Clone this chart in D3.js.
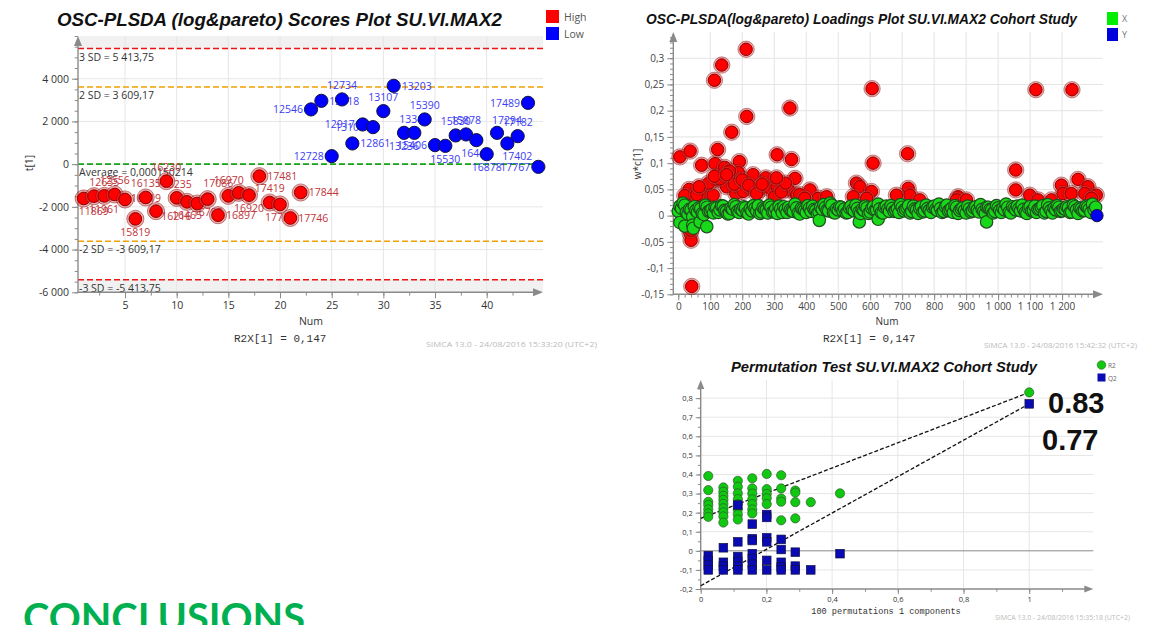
<!DOCTYPE html>
<html>
<head>
<meta charset="utf-8">
<script src="https://cdn.jsdelivr.net/npm/d3@7"></script>
<style>
  body { margin: 0; background: #fff; }
  svg { display: block; }
</style>
</head>
<body>
<svg id="c" width="1173" height="625"></svg>
<script>
// ===================== Scores plot data =====================
const scoreNum = d3.range(1, 46);
const scoreT = [-1607, -1499, -1485, -1420, -1654, -2562, -1560, -2201, -796, -1578, -1765,
  -1842, -1639, -2389, -1485, -1343, -1452, -562, -1795, -1888, -2520, -1327,
  2562, 2965, 375, 3030, 969, 1859, 1733, 2482, 3667, 1466, 1466, 2093, 890, 857,
  1344, 1391, 1124, 468, 1466, 969, 1311, 2871, -126];
const scoreClass = ["High","High","High","High","High","High","High","High","High","High","High",
  "High","High","High","High","High","High","High","High","High","High","High",
  "Low","Low","Low","Low","Low","Low","Low","Low","Low","Low","Low","Low","Low","Low",
  "Low","Low","Low","Low","Low","Low","Low","Low","Low"];
const scoreIds = ["11869","11961","12635","12556","","15819","16135","16319","16230","16235","16465",
  "16216","16792","16897","17086","16970","16920","17481","17419","17728","17746","17844",
  "12546","13018","12728","12734","12861","12917","13101","13107","13203","13236","13340","15390","15406","15530",
  "15830","15878","16440","16878","17294","17402","17182","17489","17767"];
const scoreLabelSide = ["br","br","t","t","r","b","t","tl","t","t","b",
  "bl","b","r","tl","tl","b","r","t","b","r","r",
  "l","r","l","t","r","l","l","t","r","b","t","t","l","b",
  "t","t","b","b","tr","br","t","l","l"];
const sdValues = [5413.75, 3609.17, 0.000150214, -3609.17, -5413.75];
const sdLabels = ["3 SD = 5 413,75", "2 SD = 3 609,17", "Average = 0,000150214", "-2 SD = -3 609,17", "-3 SD = -5 413,75"];
const scoreXTicks = [5, 10, 15, 20, 25, 30, 35, 40];
const scoreYTicks = [-6000, -4000, -2000, 0, 2000, 4000];

// ===================== Loadings plot data =====================
const loadNumXa = d3.range(5, 1310, 10);
const loadWXa = [
  0.018, 0.024, 0.006, 0.012, -0.002, 0.010, 0.015, 0.004, 0.020, 0.008,
  0.012, 0.016, 0.006, 0.019, 0.010, 0.003, 0.014, 0.021, 0.008, 0.012,
  0.017, 0.005, 0.013, 0.019, 0.009, 0.004, 0.015, 0.011, 0.020, 0.007,
  0.013, 0.018, 0.006, 0.012, 0.016, 0.009, 0.022, 0.005, 0.014, 0.010,
  0.019, 0.008, 0.012, 0.004, 0.016, 0.021, 0.010, 0.024, 0.006, 0.013,
  0.017, 0.009, 0.005, 0.015, 0.011, 0.020, 0.007, 0.012, 0.018, 0.004,
  0.014, 0.010, 0.022, 0.006, 0.016, 0.012, 0.019, 0.008, 0.013, 0.021,
  0.009, 0.015, 0.005, 0.018, 0.011, 0.014, 0.007, 0.020, 0.010, 0.016,
  0.012, 0.022, 0.006, 0.017, 0.009, 0.014, 0.019, 0.004, 0.013, 0.010,
  0.018, 0.007, 0.015, 0.011, 0.021, 0.008, 0.016, 0.012, 0.005, 0.019,
  0.010, 0.014, 0.022, 0.007, 0.017, 0.011, 0.013, 0.020, 0.006, 0.015,
  0.009, 0.018, 0.012, 0.016, 0.005, 0.021, 0.010, 0.014, 0.019, 0.008,
  0.013, 0.017, 0.006, 0.020, 0.011, 0.015, 0.009, 0.018, 0.012, 0.022,
  0.016];
const loadNumXb = d3.range(0, 1301, 10);
const loadWXb = [
  0.008, 0.014, 0.020, 0.003, 0.011, 0.017, 0.007, 0.013, 0.002, 0.016,
  0.009, 0.005, 0.015, 0.011, 0.018, 0.008, 0.004, 0.012, 0.017, 0.006,
  0.010, 0.015, 0.003, 0.009, 0.014, 0.019, 0.007, 0.012, 0.005, 0.016,
  0.008, 0.004, 0.013, 0.017, 0.006, 0.011, 0.008, 0.015, 0.003, 0.012,
  0.006, 0.014, 0.018, 0.010, 0.007, 0.012, 0.016, 0.009, 0.020, 0.005,
  0.011, 0.016, 0.013, 0.006, 0.018, 0.009, 0.014, 0.004, 0.010, 0.015,
  0.007, 0.017, 0.011, 0.013, 0.005, 0.018, 0.008, 0.014, 0.010, 0.006,
  0.016, 0.012, 0.019, 0.008, 0.013, 0.004, 0.017, 0.009, 0.014, 0.006,
  0.018, 0.010, 0.014, 0.008, 0.020, 0.011, 0.006, 0.016, 0.010, 0.015,
  0.005, 0.013, 0.009, 0.017, 0.007, 0.012, 0.004, 0.016, 0.011, 0.008,
  0.015, 0.006, 0.011, 0.016, 0.005, 0.014, 0.018, 0.009, 0.012, 0.004,
  0.017, 0.010, 0.006, 0.013, 0.019, 0.008, 0.015, 0.005, 0.011, 0.016,
  0.009, 0.012, 0.015, 0.007, 0.017, 0.004, 0.013, 0.010, 0.016, 0.006,
  0.011];
const loadNumXLow = [5, 20, 45, 47, 68, 89, 441, 566, 625, 964];
const loadWXLow = [-0.013, -0.020, -0.018, -0.024, -0.012, -0.021, -0.009, -0.012, -0.007, -0.012];
const loadNumSel = [5, 37, 73, 113, 136, 115, 123, 167, 212, 214, 191, 188, 139, 156, 120, 151,
  234, 274, 309, 349, 354, 365, 606, 609, 557, 568, 547, 604, 589, 1118, 1231, 717, 719, 724,
  682, 755, 1055, 1055, 1099, 1125, 1167, 1198, 1203, 1229, 1250, 1281, 1271, 1307, 1292,
  34, 76, 42, 78, 109, 180, 203, 232, 255, 287, 309, 344, 370, 412, 438, 464, 875, 870, 901,
  37, 40, 42, 40, 95, 130, 145, 160, 175, 200, 220, 245, 262, 300, 322, 335, 380, 395, 20, 58,
  65, 113, 151, 307];
const loadWSel = [0.112, 0.123, 0.096, 0.258, 0.287, 0.099, 0.126, 0.159, 0.317, 0.189, 0.103,
  0.082, 0.081, 0.076, 0.068, 0.055, 0.078, 0.072, 0.116, 0.205, 0.107, 0.071, 0.242, 0.100,
  0.062, 0.055, 0.036, 0.046, 0.033, 0.240, 0.240, 0.118, 0.052, 0.039, 0.039, 0.030, 0.087,
  0.049, 0.039, 0.030, 0.030, 0.058, 0.042, 0.042, 0.069, 0.055, 0.042, 0.039, 0.033,
  0.050, 0.049, 0.030, 0.036, 0.039, 0.042, 0.046, 0.052, 0.049, 0.052, 0.055, 0.049, 0.039,
  0.049, 0.033, 0.036, 0.036, 0.030, 0.030,
  -0.034, -0.047, -0.135, -0.028, 0.062, 0.070, 0.092, 0.085, 0.060, 0.068, 0.058, 0.042, 0.060,
  0.035, 0.045, 0.062, 0.040, 0.033, 0.038, 0.040, 0.055, 0.075, 0.078, 0.072];
const loadNumY = [1309];
const loadWY = [0.0];
const loadXTicks = [0, 100, 200, 300, 400, 500, 600, 700, 800, 900, 1000, 1100, 1200];
const loadYTicks = [-0.15, -0.1, -0.05, 0, 0.05, 0.1, 0.15, 0.2, 0.25, 0.3];

// ===================== Permutation test data =====================
const permCorr = [
  0.023, 0.023, 0.023, 0.023, 0.023, 0.023, 0.023,
  0.069, 0.069, 0.069, 0.069, 0.069, 0.069, 0.069, 0.069, 0.069,
  0.113, 0.113, 0.113, 0.113, 0.113, 0.113, 0.113, 0.113,
  0.157, 0.157, 0.157, 0.157, 0.157, 0.157, 0.157,
  0.201, 0.201, 0.201, 0.201, 0.201,
  0.245, 0.245, 0.245, 0.245, 0.245,
  0.288, 0.288, 0.288, 0.288,
  0.335, 0.424];
const permR2 = [
  0.392, 0.318, 0.257, 0.240, 0.217, 0.196, 0.178,
  0.332, 0.310, 0.288, 0.267, 0.246, 0.223, 0.202, 0.180, 0.148,
  0.367, 0.336, 0.301, 0.271, 0.245, 0.217, 0.190, 0.164,
  0.380, 0.327, 0.300, 0.270, 0.245, 0.217, 0.196,
  0.403, 0.323, 0.298, 0.276, 0.245,
  0.396, 0.327, 0.274, 0.257, 0.160,
  0.316, 0.305, 0.255, 0.170,
  0.255, 0.301];
const permCorrQ = [
  0.023, 0.023, 0.023, 0.023,
  0.069, 0.069, 0.069, 0.069,
  0.113, 0.113, 0.113, 0.113, 0.113, 0.113,
  0.157, 0.157, 0.157, 0.157, 0.157, 0.157, 0.157,
  0.201, 0.201, 0.201, 0.201, 0.201, 0.201,
  0.245, 0.245, 0.245, 0.245, 0.245,
  0.288, 0.288, 0.288,
  0.335, 0.424];
const permQ2 = [
  -0.025, -0.050, -0.075, -0.100,
  0.016, -0.060, -0.080, -0.100,
  0.240, 0.047, -0.030, -0.055, -0.080, -0.100,
  0.140, 0.063, 0.054, -0.015, -0.040, -0.070, -0.100,
  0.190, 0.175, 0.068, 0.047, -0.050, -0.100,
  0.060, 0.007, -0.060, -0.085, -0.100,
  -0.007, -0.080, -0.100,
  -0.100, -0.015];
const origR2 = 0.83, origQ2 = 0.77;
const interceptR2 = 0.17, interceptQ2 = -0.183;
const permXTicks = [0, 0.2, 0.4, 0.6, 0.8, 1];
const permYTicks = [-0.2, -0.1, 0, 0.1, 0.2, 0.3, 0.4, 0.5, 0.6, 0.7, 0.8];

// ===================== drawing =====================
const svg = d3.select("#c");
const loc = d3.formatLocale({decimal: ",", thousands: " ", grouping: [3], currency: ["", ""], minus: "-"});
const fInt = loc.format(",d");
const fDec = loc.format(",~g");
const UI = "'Open Sans', 'Noto Sans', sans-serif";
const TITLE = "'Liberation Sans', Arial, sans-serif";
const MONO = "'Liberation Mono', 'DejaVu Sans Mono', monospace";

function grid(g, x, y, xs, ys, col) {
  const [x0, x1] = x.range(), [y0, y1] = y.range();
  g.append("g").selectAll("line").data(xs).join("line")
    .attr("x1", d => x(d)).attr("x2", d => x(d)).attr("y1", y0).attr("y2", y1)
    .attr("stroke", col).attr("stroke-width", 1);
  g.append("g").selectAll("line").data(ys).join("line")
    .attr("y1", d => y(d)).attr("y2", d => y(d)).attr("x1", x0).attr("x2", x1)
    .attr("stroke", col).attr("stroke-width", 1);
}

function axes(g, x, y, o) {
  const [x0, x1] = x.range(), [y0, y1] = y.range();
  const ax = g.append("g");
  const yA = ax.append("g").attr("transform", `translate(${x0},0)`)
    .call(d3.axisLeft(y).tickValues(o.yTicks).tickFormat(o.yFmt).tickSize(o.tk).tickSizeOuter(0).tickPadding(o.pad));
  const yM = ax.append("g").attr("transform", `translate(${x0},0)`)
    .call(d3.axisLeft(y).tickValues(o.yMinor).tickFormat("").tickSize(o.tk * 0.55).tickSizeOuter(0));
  const xA = ax.append("g").attr("transform", `translate(0,${y0})`)
    .call(d3.axisBottom(x).tickValues(o.xTicks).tickFormat(o.xFmt).tickSize(o.tk).tickSizeOuter(0).tickPadding(o.pad));
  const xM = ax.append("g").attr("transform", `translate(0,${y0})`)
    .call(d3.axisBottom(x).tickValues(o.xMinor).tickFormat("").tickSize(o.tk * 0.55).tickSizeOuter(0));
  [yA, yM, xA, xM].forEach(a => {
    a.select(".domain").remove();
    a.attr("font-family", UI).attr("font-size", o.fs);
    a.selectAll(".tick line").attr("stroke", "#8a8a8a");
    a.selectAll(".tick text").attr("fill", o.tc);
  });
  // axis lines with arrow heads
  ax.append("line").attr("x1", x0).attr("x2", x0).attr("y1", y0).attr("y2", y1 + 4).attr("stroke", "#8a8a8a").attr("stroke-width", 1.4);
  ax.append("line").attr("x1", x0).attr("x2", x1 - 4).attr("y1", y0).attr("y2", y0).attr("stroke", "#8a8a8a").attr("stroke-width", 1.4);
  const a = o.arrow;
  ax.append("path").attr("d", `M${x0},${y1} L${x0 - a * 0.4},${y1 + a} L${x0 + a * 0.4},${y1 + a} Z`).attr("fill", "#8a8a8a");
  ax.append("path").attr("d", `M${x1},${y0} L${x1 - a},${y0 - a * 0.4} L${x1 - a},${y0 + a * 0.4} Z`).attr("fill", "#8a8a8a");
}

// ---------------- Scores plot ----------------
{
  const g = svg.append("g");
  const x = d3.scaleLinear([0.45, 45.45], [78, 543]);
  const y = d3.scaleLinear([-6000, 6000], [292.3, 36]);
  const sdColor = ["#ee1111", "#f2a000", "#16a316", "#f2a000", "#ee1111"];

  g.append("rect").attr("x", 78).attr("width", 465).attr("y", y(6000)).attr("height", y(sdValues[0]) - y(6000)).attr("fill", "#f1f1f1");
  g.append("rect").attr("x", 78).attr("width", 465).attr("y", y(sdValues[4])).attr("height", y(-6000) - y(sdValues[4])).attr("fill", "#f1f1f1");
  grid(g, x, y, scoreXTicks, scoreYTicks.filter(d => d > -6000), "#e6e6e6");

  g.append("g").selectAll("line").data(sdValues).join("line")
    .attr("x1", 78).attr("x2", 543).attr("y1", d => y(d)).attr("y2", d => y(d))
    .attr("stroke", (d, i) => sdColor[i]).attr("stroke-width", 1.6).attr("stroke-dasharray", "6,3");
  g.append("g").selectAll("text").data(sdLabels).join("text")
    .attr("x", 79).attr("y", (d, i) => y(sdValues[i]) + 12)
    .attr("font-family", UI).attr("font-size", 10.5).attr("fill", "#333").text(d => d);

  axes(g, x, y, {
    yTicks: scoreYTicks, yFmt: fInt, yMinor: d3.range(-6000, 6001, 500),
    xTicks: scoreXTicks, xFmt: fInt, xMinor: d3.range(2.5, 45, 2.5),
    tk: 6, pad: 3, fs: 10.5, tc: "#333", arrow: 10
  });

  // point labels (under the markers)
  const off = {r: [8, 4, "start"], l: [-8, 4, "end"], t: [0, -10, "middle"], b: [0, 17, "middle"],
    tl: [5, -9, "end"], tr: [-5, -9, "start"], bl: [-6, 17, "end"], br: [-5, 17, "start"]};
  g.append("g").selectAll("text").data(scoreNum).join("text")
    .attr("x", (d, i) => x(d) + off[scoreLabelSide[i]][0])
    .attr("y", (d, i) => y(scoreT[i]) + off[scoreLabelSide[i]][1])
    .attr("text-anchor", (d, i) => off[scoreLabelSide[i]][2])
    .attr("font-family", UI).attr("font-size", 10.5)
    .attr("fill", (d, i) => scoreClass[i] === "High" ? "#c0343a" : "#3c3cf5")
    .text((d, i) => scoreIds[i]);

  const pts = g.append("g").selectAll("g").data(scoreNum).join("g")
    .attr("transform", (d, i) => `translate(${x(d)},${y(scoreT[i])})`);
  pts.filter((d, i) => scoreClass[i] === "High").append("circle").attr("r", 8.6)
    .attr("fill", "rgba(205,70,70,0.45)").attr("stroke", "rgba(130,0,0,0.55)").attr("stroke-width", 0.8);
  pts.append("circle").attr("r", (d, i) => scoreClass[i] === "High" ? 6.3 : 6.6)
    .attr("fill", (d, i) => scoreClass[i] === "High" ? "#ff0000" : "#0000ff")
    .attr("stroke", (d, i) => scoreClass[i] === "High" ? "#8c0000" : "#14143c").attr("stroke-width", 1);

  g.append("text").attr("x", 57).attr("y", 26).attr("textLength", 445).attr("lengthAdjust", "spacingAndGlyphs")
    .attr("font-family", TITLE).attr("font-weight", "bold").attr("font-style", "italic").attr("font-size", 17.5)
    .attr("fill", "#111").text("OSC-PLSDA (log&pareto) Scores Plot SU.VI.MAX2");
  const lg = g.append("g");
  [["High", "#ff0000"], ["Low", "#0000ff"]].forEach(([t, c], i) => {
    lg.append("rect").attr("x", 546).attr("y", 10 + i * 17).attr("width", 13).attr("height", 13).attr("fill", c);
    lg.append("text").attr("x", 564).attr("y", 20.5 + i * 17).attr("font-family", UI).attr("font-size", 10.5).attr("fill", "#555").text(t);
  });
  g.append("text").attr("transform", "translate(33,163) rotate(-90)").attr("text-anchor", "middle")
    .attr("font-family", UI).attr("font-size", 10.5).attr("fill", "#333").text("t[1]");
  g.append("text").attr("x", 311).attr("y", 325).attr("text-anchor", "middle")
    .attr("font-family", UI).attr("font-size", 10.5).attr("fill", "#333").text("Num");
  g.append("text").attr("x", 234).attr("y", 342).attr("font-family", MONO).attr("font-size", 11).attr("fill", "#333").text("R2X[1] = 0,147");
  g.append("text").attr("x", 426).attr("y", 347).attr("textLength", 171).attr("lengthAdjust", "spacingAndGlyphs")
    .attr("font-family", UI).attr("font-size", 8).attr("fill", "#bbbbbb").text("SIMCA 13.0 - 24/08/2016 15:33:20 (UTC+2)");
}

// ---------------- Loadings plot ----------------
{
  const g = svg.append("g");
  const x = d3.scaleLinear([-15.6, 1328], [673.3, 1103]);
  const y = d3.scaleLinear([-0.15, 0.35], [294.3, 32]);
  grid(g, x, y, loadXTicks.filter(d => d > 0), loadYTicks.filter(d => d > -0.15), "#e4e4e4");
  axes(g, x, y, {
    yTicks: loadYTicks, yFmt: fDec, yMinor: d3.range(-15, 35, 1).map(d => d / 100),
    xTicks: loadXTicks, xFmt: fInt, xMinor: d3.range(0, 1320, 20),
    tk: 6, pad: 3, fs: 10, tc: "#444", arrow: 10
  });

  // selected variables (red, with highlight ring)
  const sel = g.append("g").selectAll("g").data(loadNumSel).join("g")
    .attr("transform", (d, i) => `translate(${x(d)},${y(loadWSel[i])})`);
  sel.append("circle").attr("r", 8.2).attr("fill", "rgba(205,70,70,0.45)").attr("stroke", "rgba(130,0,0,0.5)").attr("stroke-width", 0.8);
  sel.append("circle").attr("r", 6.2).attr("fill", "#ff0000").attr("stroke", "#8c0000").attr("stroke-width", 1);

  // X loadings (green), drawn in variable order
  const xPts = loadNumXa.map((n, i) => [n, loadWXa[i]])
    .concat(loadNumXb.map((n, i) => [n, loadWXb[i]]))
    .concat(loadNumXLow.map((n, i) => [n, loadWXLow[i]]))
    .sort((p, q) => p[0] - q[0]);
  g.append("g").selectAll("circle").data(xPts).join("circle")
    .attr("cx", d => x(d[0])).attr("cy", d => y(d[1])).attr("r", 6.2)
    .attr("fill", "#19d819").attr("stroke", "#1f4f1f").attr("stroke-width", 1.2);
  // Y loading (blue)
  g.append("g").selectAll("circle").data(loadNumY).join("circle")
    .attr("cx", d => x(d)).attr("cy", (d, i) => y(loadWY[i])).attr("r", 6.2)
    .attr("fill", "#0000ee").attr("stroke", "#14143c").attr("stroke-width", 1);

  g.append("text").attr("x", 646).attr("y", 24).attr("textLength", 431).attr("lengthAdjust", "spacingAndGlyphs")
    .attr("font-family", TITLE).attr("font-weight", "bold").attr("font-style", "italic").attr("font-size", 15)
    .attr("fill", "#111").text("OSC-PLSDA(log&pareto) Loadings Plot SU.VI.MAX2 Cohort Study");
  [["X", "#00ee00"], ["Y", "#0000dd"]].forEach(([t, c], i) => {
    g.append("rect").attr("x", 1107).attr("y", 12 + i * 16).attr("width", 11).attr("height", 13).attr("fill", c);
    g.append("text").attr("x", 1122).attr("y", 22 + i * 16).attr("font-family", UI).attr("font-size", 9).attr("fill", "#777").text(t);
  });
  g.append("text").attr("transform", "translate(641,164) rotate(-90)").attr("text-anchor", "middle")
    .attr("font-family", UI).attr("font-size", 10).attr("fill", "#333").text("w*c[1]");
  g.append("text").attr("x", 887).attr("y", 325).attr("text-anchor", "middle")
    .attr("font-family", UI).attr("font-size", 10).attr("fill", "#333").text("Num");
  g.append("text").attr("x", 823).attr("y", 342).attr("font-family", MONO).attr("font-size", 11).attr("fill", "#333").text("R2X[1] = 0,147");
  g.append("text").attr("x", 984).attr("y", 348).attr("textLength", 153).attr("lengthAdjust", "spacingAndGlyphs")
    .attr("font-family", UI).attr("font-size", 7.5).attr("fill", "#bbbbbb").text("SIMCA 13.0 - 24/08/2016 15:42:32 (UTC+2)");
}

// ---------------- Permutation test ----------------
{
  const g = svg.append("g");
  const x = d3.scaleLinear([0, 1.195], [700.7, 1093.3]);
  const y = d3.scaleLinear([-0.2, 0.895], [589, 380]);
  grid(g, x, y, permXTicks.filter(d => d > 0), permYTicks.filter(d => d > -0.2 && d !== 0), "#e6e6e6");
  g.append("line").attr("x1", x(0)).attr("x2", x(1.195)).attr("y1", y(0)).attr("y2", y(0)).attr("stroke", "#8a8a8a").attr("stroke-width", 1);
  axes(g, x, y, {
    yTicks: permYTicks, yFmt: fDec, yMinor: d3.range(-20, 90, 5).map(d => d / 100),
    xTicks: permXTicks, xFmt: fDec, xMinor: d3.range(0, 12, 1).map(d => d / 10),
    tk: 5, pad: 3, fs: 7.5, tc: "#333", arrow: 9
  });

  // regression lines through the original model
  const lines = [[interceptR2, origR2], [interceptQ2, origQ2]];
  g.append("g").selectAll("line").data(lines).join("line")
    .attr("x1", x(0)).attr("y1", d => y(d[0])).attr("x2", x(1)).attr("y2", d => y(d[1]))
    .attr("stroke", "#111").attr("stroke-width", 1.3).attr("stroke-dasharray", "4,2");

  g.append("g").selectAll("circle").data(permCorr.concat([1])).join("circle")
    .attr("cx", d => x(d)).attr("cy", (d, i) => y(i < permR2.length ? permR2[i] : origR2)).attr("r", 4.6)
    .attr("fill", "#0fc80f").attr("stroke", "#2f5a2f").attr("stroke-width", 0.7);
  g.append("g").selectAll("rect").data(permCorrQ.concat([1])).join("rect")
    .attr("x", d => x(d) - 4.3).attr("y", (d, i) => y(i < permQ2.length ? permQ2[i] : origQ2) - 4.3)
    .attr("width", 8.6).attr("height", 8.6)
    .attr("fill", "#0a0ab4").attr("stroke", "#101040").attr("stroke-width", 0.7);

  g.append("text").attr("x", 731).attr("y", 372).attr("textLength", 306).attr("lengthAdjust", "spacingAndGlyphs")
    .attr("font-family", TITLE).attr("font-weight", "bold").attr("font-style", "italic").attr("font-size", 14)
    .attr("fill", "#111").text("Permutation Test  SU.VI.MAX2 Cohort Study");
  g.append("circle").attr("cx", 1101.5).attr("cy", 365).attr("r", 4.3).attr("fill", "#0fc80f").attr("stroke", "#2f5a2f").attr("stroke-width", 0.6);
  g.append("rect").attr("x", 1097.5).attr("y", 373.5).attr("width", 8).attr("height", 8).attr("fill", "#0a0ab4");
  g.append("text").attr("x", 1108).attr("y", 367.5).attr("font-family", UI).attr("font-size", 6.5).attr("fill", "#666").text("R2");
  g.append("text").attr("x", 1108).attr("y", 380.5).attr("font-family", UI).attr("font-size", 6.5).attr("fill", "#666").text("Q2");

  g.append("text").attr("x", 1048).attr("y", 413).attr("font-family", TITLE).attr("font-weight", "bold")
    .attr("font-size", 29).attr("fill", "#111").text(origR2.toFixed(2));
  g.append("text").attr("x", 1042).attr("y", 450).attr("font-family", TITLE).attr("font-weight", "bold")
    .attr("font-size", 29).attr("fill", "#111").text(origQ2.toFixed(2));

  g.append("text").attr("x", 886).attr("y", 614).attr("text-anchor", "middle").attr("font-family", MONO)
    .attr("font-size", 8.6).attr("fill", "#333").text("100 permutations 1 components");
  g.append("text").attr("x", 995).attr("y", 620).attr("textLength", 135).attr("lengthAdjust", "spacingAndGlyphs")
    .attr("font-family", UI).attr("font-size", 6.5).attr("fill", "#bbbbbb").text("SIMCA 13.0 - 24/08/2016 15:35:18 (UTC+2)");
}

// ---------------- section heading (runs off the bottom edge) ----------------
svg.append("text").attr("x", 23).attr("y", 632).attr("textLength", 282).attr("lengthAdjust", "spacingAndGlyphs")
  .attr("font-family", "Lato, 'Open Sans', sans-serif").attr("font-weight", "bold").attr("font-size", 40)
  .attr("fill", "#00b050").text("CONCLUSIONS");
</script>
</body>
</html>
